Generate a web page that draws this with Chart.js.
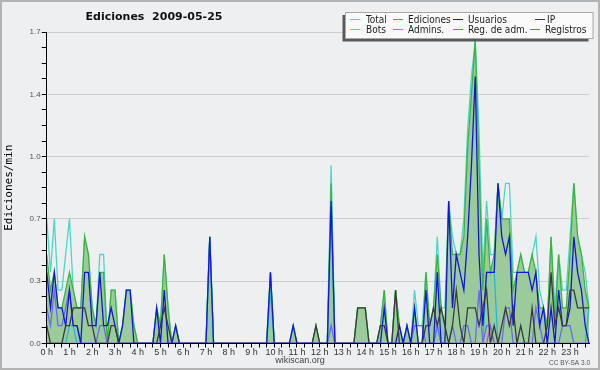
<!DOCTYPE html>
<html><head><meta charset="utf-8">
<script src="https://cdn.jsdelivr.net/npm/chart.js@4.4.0/dist/chart.umd.min.js"></script>
<style>html,body{margin:0;padding:0;background:#eeeff1;}canvas{display:block;}</style>
</head><body>
<canvas id="c" width="600" height="370" style="width:600px;height:370px"></canvas>
<script>
const titleText = "Ediciones  2009-05-25";
const times = [
"00:00","00:10","00:20","00:30","00:40","00:50","01:00","01:10","01:20","01:30","01:40","01:50",
"02:00","02:10","02:20","02:30","02:40","02:50","03:00","03:10","03:20","03:30","03:40","03:50",
"04:00","04:10","04:20","04:30","04:40","04:50","05:00","05:10","05:20","05:30","05:40","05:50",
"06:00","06:10","06:20","06:30","06:40","06:50","07:00","07:10","07:20","07:30","07:40","07:50",
"08:00","08:10","08:20","08:30","08:40","08:50","09:00","09:10","09:20","09:30","09:40","09:50",
"10:00","10:10","10:20","10:30","10:40","10:50","11:00","11:10","11:20","11:30","11:40","11:50",
"12:00","12:10","12:20","12:30","12:40","12:50","13:00","13:10","13:20","13:30","13:40","13:50",
"14:00","14:10","14:20","14:30","14:40","14:50","15:00","15:10","15:20","15:30","15:40","15:50",
"16:00","16:10","16:20","16:30","16:40","16:50","17:00","17:10","17:20","17:30","17:40","17:50",
"18:00","18:10","18:20","18:30","18:40","18:50","19:00","19:10","19:20","19:30","19:40","19:50",
"20:00","20:10","20:20","20:30","20:40","20:50","21:00","21:10","21:20","21:30","21:40","21:50",
"22:00","22:10","22:20","22:30","22:40","22:50","23:00","23:10","23:20","23:30","23:40","23:50"];
const hourLabels = ["0 h","1 h","2 h","3 h","4 h","5 h","6 h","7 h","8 h","9 h","10 h","11 h",
"12 h","13 h","14 h","15 h","16 h","17 h","18 h","19 h","20 h","21 h","22 h","23 h"];
const yTickLabels = ["0.0","0.3","0.7","1.0","1.4","1.7"];

const total = [
0.7,0.4,0.7,0.3,0.3,0.5,0.7,0.3,0.2,0.2,0.6,0.5,
0.2,0.1,0.5,0.5,0,0.3,0.3,0,0.1,0.3,0.3,0.1,
0,0,0,0,0,0.2,0.1,0.5,0.2,0,0.1,0,
0,0,0,0,0,0,0,0.6,0,0,0,0,
0,0,0,0,0,0,0,0,0,0,0,0.4,
0,0,0,0,0,0.1,0,0,0,0,0,0.1,
0,0,0,1.0,0,0,0,0,0,0,0.2,0.2,
0.2,0,0,0,0.1,0.3,0,0,0.3,0.1,0,0.1,
0,0.3,0.1,0.1,0.4,0.1,0.2,0.6,0.2,0.2,0.8,0.6,
0.5,0.5,0.7,1.2,1.5,1.7,1.2,0.4,0.8,0.5,0.5,0.9,
0.7,0.9,0.9,0.4,0.4,0.5,0.4,0.4,0.5,0.6,0.3,0.2,
0.1,0.6,0.2,0.5,0.3,0.3,0.6,0.9,0.6,0.5,0.4,0.2];
const ediciones = [
0.5,0.3,0.4,0.2,0.2,0.3,0.4,0.3,0.2,0.2,0.6,0.5,
0.2,0.1,0.4,0.4,0,0.3,0.3,0,0.1,0.3,0.3,0.1,
0,0,0,0,0,0.2,0.1,0.5,0.2,0,0.1,0,
0,0,0,0,0,0,0,0.6,0,0,0,0,
0,0,0,0,0,0,0,0,0,0,0,0.4,
0,0,0,0,0,0.1,0,0,0,0,0,0.1,
0,0,0,0.9,0,0,0,0,0,0,0.2,0.2,
0.2,0,0,0,0.1,0.3,0,0,0.3,0.1,0,0.1,
0,0.2,0,0,0.4,0.1,0.2,0.5,0.2,0.1,0.8,0.5,
0.5,0.5,0.6,1.1,1.4,1.7,1.0,0.3,0.7,0.4,0.5,0.9,
0.7,0.7,0.7,0.3,0.4,0.5,0.4,0.4,0.5,0.4,0.2,0.2,
0.1,0.6,0.1,0.5,0.2,0.2,0.5,0.9,0.6,0.5,0.3,0.2];
const usuarios = [
0.4,0.2,0.4,0.2,0.2,0.1,0.3,0.1,0.1,0,0.4,0.4,
0.1,0.1,0.4,0.1,0.1,0.2,0.1,0,0.1,0.3,0.3,0,
0,0,0,0,0,0.2,0,0.3,0,0,0.1,0,
0,0,0,0,0,0,0,0.6,0,0,0,0,
0,0,0,0,0,0,0,0,0,0,0,0.4,
0,0,0,0,0,0.1,0,0,0,0,0,0,
0,0,0,0.8,0,0,0,0,0,0,0,0,
0,0,0,0,0,0.2,0,0,0,0.1,0,0.1,
0,0.2,0,0,0.3,0,0,0.4,0,0,0.8,0.2,
0.5,0.4,0.3,0.6,1.0,1.5,0.5,0.1,0.4,0.4,0.4,0.9,
0.6,0.5,0.6,0.1,0.4,0.4,0.4,0.4,0.3,0.4,0.1,0.2,
0,0.2,0,0.3,0.1,0.1,0.2,0.6,0.4,0.3,0.1,0];
const ip = [
0.1,0,0,0,0,0.1,0.1,0.2,0.2,0.2,0.2,0.1,
0.1,0,0,0,0,0.1,0.1,0,0,0,0,0,
0,0,0,0,0,0,0.1,0.2,0.1,0,0,0,
0,0,0,0,0,0,0,0,0,0,0,0,
0,0,0,0,0,0,0,0,0,0,0,0,
0,0,0,0,0,0,0,0,0,0,0,0.1,
0,0,0,0,0,0,0,0,0,0,0.2,0.2,
0.2,0,0,0,0.1,0.1,0,0,0.3,0,0,0,
0,0,0,0,0.1,0.1,0.2,0.1,0.2,0.1,0,0.1,
0.3,0.1,0,0.2,0.2,0.2,0.1,0.2,0.3,0,0.1,0,
0.1,0.2,0.1,0.2,0,0.1,0,0,0.2,0,0,0,
0.1,0.4,0.1,0.2,0.1,0.1,0.3,0.3,0.2,0.2,0.2,0.2];
const bots = [
0,0,0,0,0,0,0,0,0,0,0,0,
0,0,0,0,0,0,0,0,0,0,0,0,
0,0,0,0,0,0,0,0,0,0,0,0,
0,0,0,0,0,0,0,0,0,0,0,0,
0,0,0,0,0,0,0,0,0,0,0,0,
0,0,0,0,0,0,0,0,0,0,0,0,
0,0,0,0,0,0,0,0,0,0,0,0,
0,0,0,0,0,0,0,0,0,0,0,0,
0,0,0,0,0,0,0,0,0,0,0,0,
0,0,0,0,0,0,0,0,0,0,0,0,
0,0,0,0,0,0,0,0,0,0,0,0,
0,0,0,0,0,0,0,0,0,0,0,0];
const admins = [
0,0,0,0,0,0,0.1,0.1,0,0,0,0,
0,0,0,0,0,0,0,0,0,0,0,0,
0,0,0,0,0,0,0,0,0,0,0,0,
0,0,0,0,0,0,0,0.6,0,0,0,0,
0,0,0,0,0,0,0,0,0,0,0,0.3,
0,0,0,0,0,0,0,0,0,0,0,0,
0,0,0,0.8,0,0,0,0,0,0,0,0,
0,0,0,0,0,0,0,0,0,0,0,0,
0,0,0,0,0,0,0,0.1,0,0,0,0,
0,0,0,0,0,0,0,0,0.4,0.4,0.4,0,
0,0,0,0,0,0,0,0,0,0,0,0,
0,0,0,0,0,0,0,0,0,0,0,0.2];
const regAdm = [
0,0,0,0,0,0,0,0,0,0,0,0,
0,0,0,0,0,0,0,0,0,0,0,0,
0,0,0,0,0,0,0,0,0,0,0,0,
0,0,0,0,0,0,0,0,0,0,0,0,
0,0,0,0,0,0,0,0,0,0,0,0,
0,0,0,0,0,0,0,0,0,0,0,0,
0,0,0,0,0,0,0,0,0,0,0,0,
0,0,0,0,0,0,0,0,0,0,0,0,
0,0,0,0,0,0,0,0,0,0,0,0,
0,0,0,0,0,0,0,0,0,0.1,0,0,
0,0,0,0,0,0,0,0,0,0,0,0,
0,0,0,0,0,0,0,0,0,0,0,0];
const registros = [
0.2,0.1,0.3,0.1,0.1,0.2,0.3,0.1,0.1,0,0,0,
0,0,0.1,0.1,0,0,0,0,0,0,0,0,
0,0,0,0,0,0,0,0,0,0,0,0,
0,0,0,0,0,0,0,0,0,0,0,0,
0,0,0,0,0,0,0,0,0,0,0,0,
0,0,0,0,0,0,0,0,0,0,0,0,
0,0,0,0.1,0,0,0,0,0,0,0,0,
0,0,0,0,0,0,0,0,0,0,0,0,
0,0.1,0.1,0.1,0,0,0,0.1,0,0,0,0.1,
0,0,0.1,0.1,0,0,0.3,0,0.1,0.1,0,0,
0,0.2,0.2,0,0,0,0,0,0,0.2,0.1,0,
0,0,0,0,0.1,0.1,0.1,0,0,0,0,0];

const COLORS = {
  'Total':'#4dd6c8','Ediciones':'#3cb43c','Usuarios':'#1414e0','IP':'#3a3a3a',
  'Bots':'#f39a3a','Admins.':'#20b8dc','Reg. de adm.':'#cc44dd','Registros':'#6a6af0'
};
const legendRows = [["Total","Ediciones","Usuarios","IP"],["Bots","Admins.","Reg. de adm.","Registros"]];
const legendLineX = [[350,393,453,535],[350,393,453,530]];
const legendTextX = [[366,408,468,547],[366,408,468,545]];

const deco = {
  id:'deco',
  beforeDraw(chart){
    const c = chart.ctx; c.save();
    c.fillStyle = '#eeeff1'; c.fillRect(0,0,600,370);
    c.restore();
  },
  afterDraw(chart){
    const c = chart.ctx; c.save();
    c.strokeStyle = '#b3b3b3'; c.lineWidth = 2; c.strokeRect(1,1,598,368);
    c.fillStyle = '#111'; c.font = 'bold 11px "DejaVu Sans"';
    c.textAlign = 'center'; c.textBaseline = 'middle';
    c.fillText(titleText, 154, 17);
    // legend
    c.fillStyle = '#5a5a5a'; c.fillRect(342.5, 15, 246, 26.5);
    c.fillStyle = '#fafafa'; c.fillRect(345.5, 12.5, 247.5, 26);
    c.strokeStyle = '#a8a8a8'; c.lineWidth = 1; c.strokeRect(345.5, 12.5, 247.5, 26);
    c.font = '10px "DejaVu Sans Condensed", "DejaVu Sans", sans-serif';
    c.textAlign = 'left'; c.textBaseline = 'alphabetic';
    legendRows.forEach((row, r) => {
      const ly = r === 0 ? 19.5 : 29.5;
      const ty = r === 0 ? 22.8 : 32.6;
      row.forEach((name, k) => {
        c.strokeStyle = COLORS[name]; c.lineWidth = 1;
        c.beginPath(); c.moveTo(legendLineX[r][k], ly); c.lineTo(legendLineX[r][k] + 10, ly); c.stroke();
        c.fillStyle = '#222'; c.fillText(name, legendTextX[r][k], ty);
      });
    });
    c.fillStyle = '#444'; c.font = '9px "Liberation Sans"'; c.textAlign = 'center'; c.textBaseline = 'middle';
    c.fillText('wikiscan.org', 300, 361);
    c.fillStyle = '#555'; c.font = '6.5px "Liberation Sans"'; c.textAlign = 'right';
    c.fillText('CC BY-SA 3.0', 590, 363);
    c.restore();
  }
};

function ds(label, data, order, extra){
  return Object.assign({label, data, borderColor: COLORS[label], borderWidth:1.3, pointRadius:0, tension:0, fill:false, order}, extra||{});
}

new Chart(document.getElementById('c').getContext('2d'), {
  type:'line',
  data:{
    labels: times,
    datasets:[
      ds('IP', ip, 0),
      ds('Usuarios', usuarios, 1),
      ds('Registros', registros, 2),
      ds('Reg. de adm.', regAdm, 3),
      ds('Admins.', admins, 4),
      ds('Bots', bots, 5),
      ds('Ediciones', ediciones, 6, {fill:'origin', backgroundColor:'#9bcb9b'}),
      ds('Total', total, 7)
    ]
  },
  options:{
    responsive:false, animation:false,
    layout:{padding:{left:3, right:11, top:32, bottom:0}},
    plugins:{legend:{display:false}, tooltip:{enabled:false}, title:{display:false}},
    scales:{
      x:{
        type:'category', offset:false,
        afterFit(s){ s.height = 26.5; },
        border:{display:true, color:'#000', width:1, z:1},
        grid:{display:true, drawOnChartArea:false, drawTicks:true, tickLength:4,
              tickColor:(c)=> (c.index % 2 === 0 ? '#000' : 'rgba(0,0,0,0)')},
        ticks:{autoSkip:false, maxRotation:0, minRotation:0, padding:0, color:'#333',
               font:{family:'Liberation Sans', size:9},
               callback:(v,i)=> (i % 6 === 0 ? hourLabels[i/6] : '')}
      },
      y:{
        min:0, max:1.75,
        afterBuildTicks(s){ const t=[]; for(let k=0;k<=20;k++){ t.push({value:k*0.0875}); } s.ticks=t; },
        afterFit(s){ s.width = 43.7; },
        border:{display:true, color:'#000', width:1, z:1},
        grid:{display:true, drawOnChartArea:true, drawTicks:true, tickLength:5, tickColor:'#000',
              color:(c)=> ((c.index % 4 === 0 && c.index > 0) ? '#cdcdcd' : 'rgba(0,0,0,0)')},
        ticks:{autoSkip:false, padding:1, color:'#555', font:{family:'Liberation Sans', size:8},
               callback:(v,i)=> (i % 4 === 0 ? yTickLabels[i/4] : '')},
        title:{display:true, text:'Ediciones/min', color:'#000', padding:0,
               font:{family:'DejaVu Sans Mono', size:11}}
      }
    }
  },
  plugins:[deco]
});
</script>
</body></html>
